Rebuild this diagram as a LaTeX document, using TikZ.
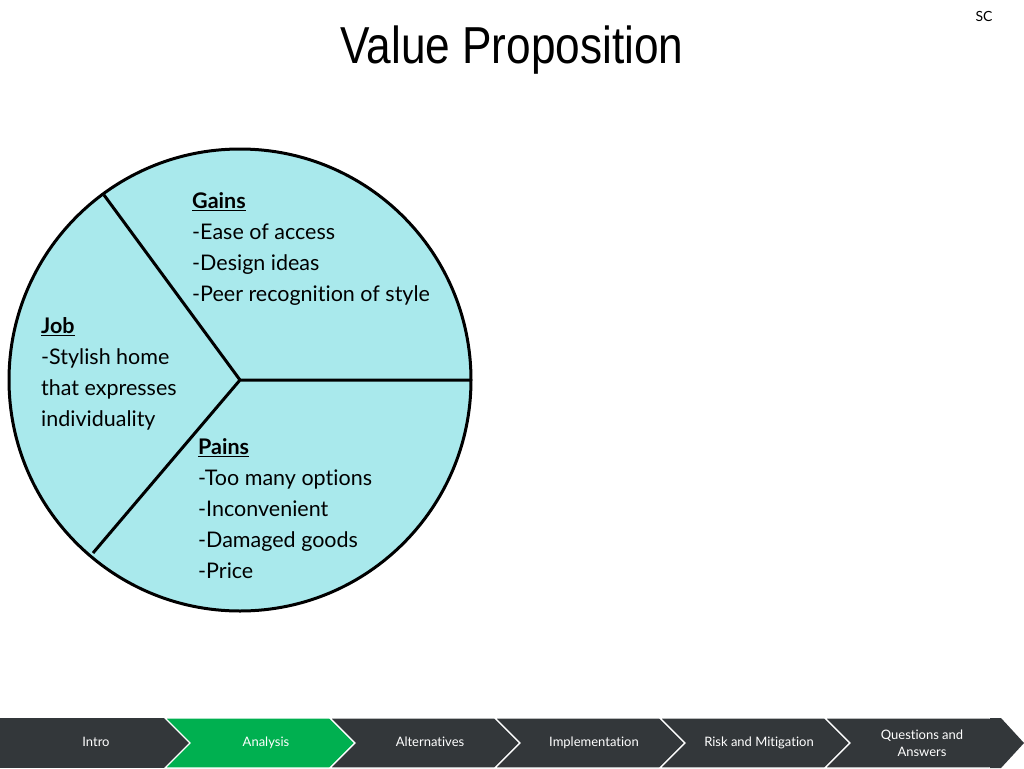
\documentclass[tikz,border=0pt]{standalone}
\usepackage{fontspec}
\setmainfont{Lato}[Ligatures=NoCommon]
\newfontfamily\titlefont[FakeStretch=0.85]{Liberation Sans}
\begin{document}
\begin{tikzpicture}[x=1pt,y=-1pt,
  txt/.style={anchor=north west,align=left,font=\fontsize{21.5}{31}\selectfont,inner sep=0pt},
  navlbl/.style={text=white,font=\fontsize{13}{15}\selectfont,align=center,text height=9pt,text depth=3pt}]
\useasboundingbox (0,0) rectangle (1024,768);
\definecolor{pie}{HTML}{A9E9EC}
\definecolor{bar}{HTML}{33373A}
\definecolor{grn}{HTML}{00B050}
\node[font=\titlefont\fontsize{52}{56}\selectfont] (title) at (512,50) {Value Proposition};
\node[font=\fontsize{14}{16}\selectfont] (sc) at (984,16) {SC};
\coordinate (c) at (240,380);
\node[circle,draw,line width=3pt,fill=pie,minimum size=462pt,inner sep=0pt] (circ) at (c) {};
\coordinate (r) at (471,380);
\coordinate (ul) at (104,195);
\coordinate (ll) at (93,553);
\draw[line width=3pt] (r) -- (c) -- (ul) (c) -- (ll);
\node[txt] (gains) at (192,192) {\underline{\textbf{Gains}}\\-Ease of access\\-Design ideas\\-Peer recognition of style};
\node[txt] (job) at (41,317) {\underline{\textbf{Job}}\\-Stylish home\\that expresses\\individuality};
\node[txt] (pains) at (198,438) {\underline{\textbf{Pains}}\\-Too many options\\-Inconvenient\\-Damaged goods\\-Price};
% nav bar
\fill[bar] (0,718) rectangle (1024,768);
\foreach \i/\col in {1/grn,2/bar,3/bar,4/bar,5/bar}{
  \pgfmathsetmacro\xa{165*\i}
  \pgfmathsetmacro\xb{165*(\i+1)}
  \filldraw[fill=\col,draw=white,line width=1.2pt] (\xa,718) -- (\xb,718) -- (\xb+25,743) -- (\xb,768) -- (\xa,768) -- (\xa+25,743) -- cycle;
}
\fill[white] (1001,718) rectangle (1024,768);
\fill[bar] (990,718) -- (1001,718) -- (1024,743) -- (1001,768) -- (990,768) -- cycle;
\node[navlbl] (n1) at (96,743) {Intro};
\node[navlbl] (n2) at (266,743) {Analysis};
\node[navlbl] (n3) at (430,743) {Alternatives};
\node[navlbl] (n4) at (594,743) {Implementation};
\node[navlbl] (n5) at (759,743) {Risk and Mitigation};
\node[navlbl,font=\fontsize{13}{17}\selectfont,text height=,text depth=] (n6) at (922,743) {Questions and\\Answers};
\end{tikzpicture}
\end{document}
